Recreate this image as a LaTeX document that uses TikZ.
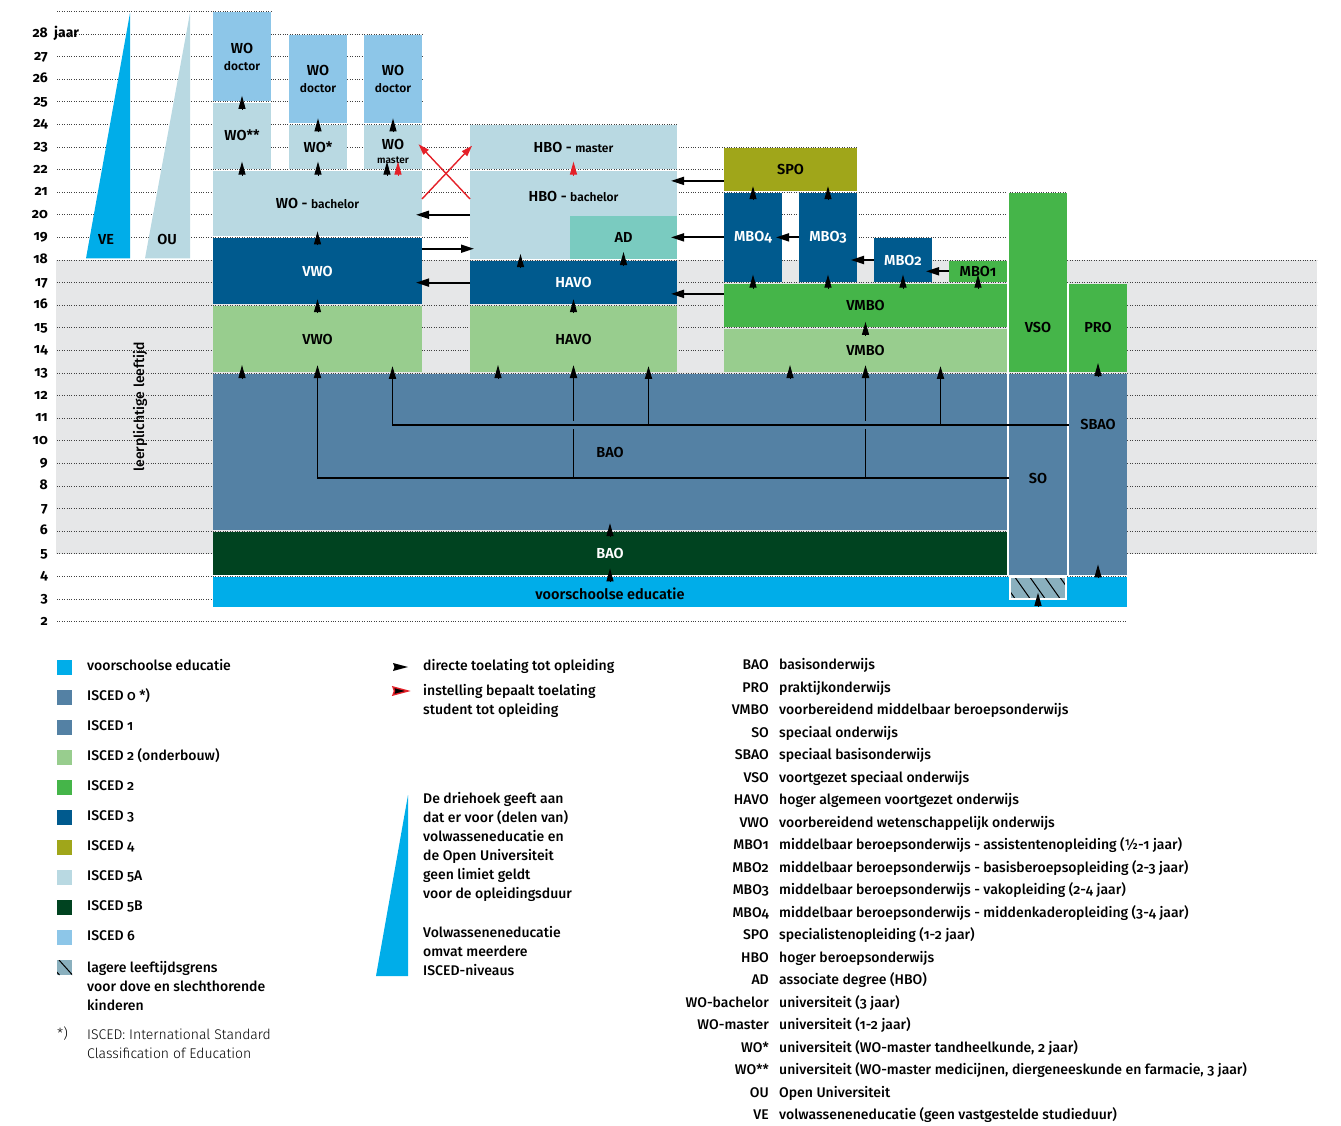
\documentclass[tikz,border=0pt]{standalone}
\usepackage{fontspec}
\setmainfont{Fira Sans}[Numbers=OldStyle]
\IfFontExistsTF{Fira Sans Medium}
	{\newfontfamily\medium{Fira Sans Medium}[Numbers=OldStyle]}
	{\newcommand\medium{\normalfont}}
\IfFontExistsTF{Fira Sans SemiBold}
	{\newfontfamily\semi{Fira Sans SemiBold}[Numbers=OldStyle]}
	{\newcommand\semi{\bfseries}}
\IfFontExistsTF{Fira Sans Light}
	{\newfontfamily\licht{Fira Sans Light}[Numbers=OldStyle]}
	{\newcommand\licht{\normalfont}}
\usetikzlibrary{arrows.meta, fit}
\definecolor{ve}{RGB}{0,173,233}
\definecolor{isc1}{RGB}{84,129,164}
\definecolor{isc2o}{RGB}{152,205,142}
\definecolor{isc2}{RGB}{69,181,73}
\definecolor{isc3}{RGB}{0,90,142}
\definecolor{isc4}{RGB}{160,166,26}
\definecolor{isc5a}{RGB}{185,217,226}
\definecolor{isc5b}{RGB}{0,67,32}
\definecolor{isc6}{RGB}{141,198,232}
\definecolor{ad}{RGB}{122,203,192}
\definecolor{band}{RGB}{230,231,232}
\definecolor{luik}{RGB}{138,176,190}
\definecolor{rood}{RGB}{228,32,40}
\newcommand\klein{\fontsize{12}{15}\selectfont}

\begin{document}
\begin{tikzpicture}[x=1pt, y=-1pt, >={Triangle[length=13pt,width=7pt]},
		blok/.style={fill=#1, inner xsep=0pt, inner ysep=-1pt, outer sep=0pt},
		zw/.style={font=\semi\fontsize{14.5}{17}\selectfont, align=center, inner sep=0pt},
		wit/.style={zw, text=white},
		raster/.style={black!75, line width=0.8pt, dash pattern=on 0.8pt off 1.6pt},
		kop/.style={->, line width=1pt},
		roodkop/.style={kop, draw=rood},
		pijl/.style={->, line width=1.8pt},
		lijn/.style={line width=1.8pt},
		links/.style={->, line width=1.8pt, >={Triangle[length=13pt,width=8pt]}, shorten >=-6pt},
		rood/.style={->, draw=rood, line width=1.4pt, >={Triangle[length=11pt,width=7pt]}},
		jr/.style={font=\bfseries\fontsize{14}{16}\selectfont, inner sep=0pt, text height=9pt, text depth=2pt},
		leg/.style={font=\medium\fontsize{14}{19}\selectfont, anchor=west, align=left, inner sep=0pt},
		legr/.style={leg, text height=10pt, text depth=3pt},
		afk/.style={legr, anchor=east, align=right},
		voet/.style={leg, font=\licht\fontsize{14}{19}\selectfont}]
	\useasboundingbox (0,0) rectangle (1341,1126);
	\begin{scope}[y=22.6pt, yshift=-666.8pt]
		\fill[band] (56,18) rectangle (1317,5);
		\foreach \a in {5,...,18}
			\draw[raster] (57,\a) -- (1317,\a);
		\foreach \a/\r in {29/271, 28/422, 27/422, 26/422, 25/422, 24/677, 23/858, 22/858, 21/1067, 20/1007, 19/1007, 4/1127, 3/1127, 2/1127}
			\draw[raster] (57,\a) -- (\r,\a);
		\foreach \a in {2,...,28}
			\node[jr, anchor=east] (j\a) at (48,\a) {\a};
		\node[jr, anchor=west] (jaar) at (54,28) {jaar};
		\node[leg, anchor=center, rotate=90] (leer) at (140,11.5) {leerplichtige leeftijd};

		\fill[ve] (86,18.07) -- (130,18.07) -- (130,28.93) -- cycle;
		\fill[isc5a] (145,18.07) -- (190,18.07) -- (190,28.93) -- cycle;
		\node[zw] (ve) at (106,18.9) {VE};
		\node[zw] (ou) at (167,18.9) {OU};

		\node[blok=isc6, fit={(213,29) (271,25)}, label={[zw]center:WO\\{\klein doctor}}] (wod1) {};
		\node[blok=isc5a, fit={(213,25) (271,22)}, label={[zw]center:WO**}] (wo2s) {};
		\node[blok=isc6, fit={(289,28) (347,24)}, label={[zw]center:WO\\{\klein doctor}}] (wod2) {};
		\node[blok=isc5a, fit={(289,24) (347,22)}, label={[zw]center:WO*}] (wo1s) {};
		\node[blok=isc6, fit={(364,28) (422,24)}, label={[zw]center:WO\\{\klein doctor}}] (wod3) {};
		\node[blok=isc5a, fit={(364,24) (422,22)}, label={[zw, yshift=-4pt]center:WO\\[-3pt]{\fontsize{10}{10}\selectfont master}}] (woma) {};
		\node[blok=isc5a, fit={(213,22) (422,19)}, label={[zw]center:WO - {\klein bachelor}}] (wobach) {};
		\node[blok=isc3, fit={(213,19) (422,16)}, label={[wit]center:VWO}] (vwo3) {};
		\node[blok=isc2o, fit={(213,16) (422,13)}, label={[zw]center:VWO}] (vwo2) {};

		\node[blok=isc5a, fit={(470,24) (677,22)}, label={[zw]center:HBO - {\klein master}}] (hboma) {};
		\node[blok=isc5a, fit={(470,22) (677,18)}] (hboba) {};
		\node[zw] (hbobaT) at (573.5,20.8) {HBO - {\klein bachelor}};
		\node[blok=ad, fit={(570,20) (677,18)}, label={[zw]center:AD}] (ad) {};
		\node[blok=isc3, fit={(470,18) (677,16)}, label={[wit]center:HAVO}] (havo3) {};
		\node[blok=isc2o, fit={(470,16) (677,13)}, label={[zw]center:HAVO}] (havo2) {};

		\node[blok=isc4, fit={(724,23) (857,21)}, label={[zw]center:SPO}] (spo) {};
		\node[blok=isc3, fit={(724,21) (782,17)}, label={[wit]center:MBO4}] (mbo4) {};
		\node[blok=isc3, fit={(799,21) (857,17)}, label={[wit]center:MBO3}] (mbo3) {};
		\node[blok=isc3, fit={(874,19) (932,17)}, label={[wit]center:MBO2}] (mbo2) {};
		\node[blok=isc2, fit={(949,18) (1007,17)}, label={[zw]center:MBO1}] (mbo1) {};
		\node[blok=isc2, fit={(724,17) (1007,15)}, label={[zw]center:VMBO}] (vmbo2) {};
		\node[blok=isc2o, fit={(724,15) (1007,13)}, label={[zw]center:VMBO}] (vmbo1) {};
		\node[blok=isc2, fit={(1009,21) (1067,13)}] (vso) {};
		\node[blok=isc2, fit={(1069,17) (1127,13)}, label={[zw]center:PRO}] (pro) {};

		\node[blok=isc1, fit={(213,13) (1007,6)}, label={[zw]center:BAO}] (bao) {};
		\node[blok=isc1, fit={(1009,13) (1067,4)}] (so) {};
		\node[blok=isc1, fit={(1069,13) (1127,4)}] (sbao) {};
		\node[blok=isc5b, fit={(213,6) (1007,4)}, label={[wit]center:BAO}] (bao0) {};
		\node[blok=ve, fit={(213,4) (1127,2.6)}] (vve) {};
		\fill[white] (1007,21) rectangle (1009,4);
		\fill[white] (1067,17) rectangle (1069,4);

		\node[fill=luik, inner sep=0pt, fit={(1010,3.96) (1066,3.02)}] (doof) {};
		\begin{scope}
			\clip (doof.south west) rectangle (doof.north east);
			\foreach \x in {1000,1015,...,1060}
				\draw[line width=1pt] (\x,3.96) -- ++(15,-0.94);
		\end{scope}
		\draw[white, line width=2pt] (doof.south west) rectangle (doof.north east);

		\node[zw] (vsoT) at (1038,15) {VSO};
		\node[zw] (soT) at (1038,8.35) {SO};
		\node[zw] (sbaoT) at (1098,10.7) {SBAO};
		\node[zw] (vveT) at (610,3.22) {voorschoolse educatie};

		\foreach \p in {wo2s.north, wo2s.south, wo1s.north, wo1s.south, woma.north, vwo3.north, vwo2.north, havo2.north, ad.south, mbo4.north, mbo3.north, mbo4.south, mbo3.south, mbo2.south, mbo1.south, vmbo1.north, bao.south, bao0.south}
			\draw[kop] ([yshift=-7pt]\p) -- ([yshift=7pt]\p);
		\draw[kop] ([xshift=-6pt,yshift=-7pt]woma.south) -- ([xshift=-6pt,yshift=7pt]woma.south);
		\draw[roodkop] ([xshift=5pt,yshift=-7pt]woma.south) -- ([xshift=5pt,yshift=7pt]woma.south);
		\draw[roodkop] ([yshift=-7pt]hboma.south) -- ([yshift=7pt]hboma.south);
		\draw[kop] ([xshift=-53pt,yshift=-7pt]havo3.north) -- ([xshift=-53pt,yshift=7pt]havo3.north);
		\foreach \p in {vwo2, havo2, vmbo1}
			\draw[kop] ([xshift=-75.5pt,yshift=-7pt]\p.south) -- ([xshift=-75.5pt,yshift=7pt]\p.south);
		\draw[kop] ([yshift=-4pt]pro.south) -- ([yshift=9pt]pro.south);
		\draw[kop] ([yshift=-3pt]sbao.south) -- ([yshift=11pt]sbao.south);
		\draw[kop] ([yshift=-8pt]doof.south) -- ([yshift=6pt]doof.south);

		\coordinate (jso) at (0,8.35);
		\coordinate (jsb) at (0,10.7);
		\coordinate (gon) at (0,10.52);
		\coordinate (gbo) at (0,10.88);
		\coordinate (sb1) at (392.5,13.31);
		\coordinate (sb2) at (648.5,13.31);
		\coordinate (sb3) at (940.5,13.31);
		\draw[pijl] (so.west |- jso) -| ([yshift=7pt]vwo2.south);
		\draw[lijn] (havo2.south |- jso) -- (havo2.south |- gon);
		\draw[pijl] (havo2.south |- gbo) -- ([yshift=7pt]havo2.south);
		\draw[lijn] (vmbo1.south |- jso) -- (vmbo1.south |- gon);
		\draw[pijl] (vmbo1.south |- gbo) -- ([yshift=7pt]vmbo1.south);
		\draw[pijl] (sbao.west |- jsb) -| (sb1);
		\draw[pijl] (sb2 |- jsb) -- (sb2);
		\draw[pijl] (sb3 |- jsb) -- (sb3);

		\coordinate (r215) at (0,21.5);
		\coordinate (r185) at (0,18.5);
		\coordinate (r165) at (0,16.5);
		\draw[links] (hboba.west) -- (hboba.west -| wobach.east);
		\draw[links, shorten >=-4pt] (vwo3.east |- r185) -- (hboba.west |- r185);
		\draw[links] (havo3.west) -- (havo3.west -| vwo3.east);
		\draw[links] (spo.west |- r215) -- (hboba.east |- r215);
		\draw[links] (mbo4.west) -- (ad.east);
		\draw[links] (vmbo2.west |- r165) -- (havo3.east |- r165);
		\draw[links] (mbo3.west) -- (mbo4.east);
		\draw[links] (mbo2.west) -- (mbo2.west -| mbo3.east);
		\draw[links] (mbo1.west) -- (mbo1.west -| mbo2.east);

		\coordinate (rx) at (0,20.7);
		\coordinate (r23) at (0,22.96);
		\draw[rood, shorten >=-3pt] (wobach.east |- rx) -- (hboma.west |- r23);
		\draw[rood, shorten >=-5pt] (hboba.west |- rx) -- (woma.east |- r23);
	\end{scope}

	\foreach \kl/\tk [count=\i from 0] in {ve/voorschoolse educatie, isc1/ISCED 0 *), isc1/ISCED 1, isc2o/ISCED 2 (onderbouw), isc2/ISCED 2, isc3/ISCED 3, isc4/ISCED 4, isc5a/ISCED 5A, isc5b/ISCED 5B, isc6/ISCED 6}
	{
		\fill[\kl] (57,{660+30*\i}) rectangle (72,{675+30*\i});
		\node[legr] (leg\i) at (87,{667+30*\i}) {\tk};
	}
	\begin{scope}
		\clip (57,960) rectangle (72,975);
		\fill[luik] (57,960) rectangle (72,975);
		\foreach \x in {46,59}
			\draw[line width=1pt] (\x,960) -- ++(13.5,15);
	\end{scope}
	\node[leg] (leg10) at (87,986) {lagere leeftijdsgrens\\voor dove en slechthorende\\kinderen};
	\node[voet] (ster) at (57,1034) {*)};
	\node[voet] (voetT) at (87,1043.5) {ISCED: International Standard\\Classification of Education};

	\fill (393,663) -- (408,667) -- (393,671) -- (394.5,667) -- cycle;
	\fill[rood] (393,687) -- (408,691) -- (393,695) -- (394.5,691) -- cycle;
	\node[legr] (pijl1) at (423,667) {directe toelating tot opleiding};
	\node[leg] (pijl2) at (423,700.5) {instelling bepaalt toelating\\student tot opleiding};
	\fill[ve] (376,976) -- (408,976) -- (408,795) -- cycle;
	\node[leg] (drie1) at (423,846.5) {De driehoek geeft aan\\dat er voor (delen van)\\volwasseneducatie en\\de Open Universiteit\\geen limiet geldt\\voor de opleidingsduur};
	\node[leg] (drie2) at (423,951) {Volwasseneneducatie\\omvat meerdere\\ISCED-niveaus};

	\foreach \ab/\om [count=\i from 0] in {BAO/basisonderwijs, PRO/praktijkonderwijs, VMBO/voorbereidend middelbaar beroepsonderwijs, SO/speciaal onderwijs, SBAO/speciaal basisonderwijs, VSO/voortgezet speciaal onderwijs, HAVO/hoger algemeen voortgezet onderwijs, VWO/voorbereidend wetenschappelijk onderwijs, MBO1/middelbaar beroepsonderwijs - assistentenopleiding (½-1 jaar), MBO2/middelbaar beroepsonderwijs - basisberoepsopleiding (2-3 jaar), MBO3/middelbaar beroepsonderwijs - vakopleiding (2-4 jaar), MBO4/middelbaar beroepsonderwijs - middenkaderopleiding (3-4 jaar), SPO/specialistenopleiding (1-2 jaar), HBO/hoger beroepsonderwijs, AD/associate degree (HBO), WO-bachelor/universiteit (3 jaar), WO-master/universiteit (1-2 jaar), WO*/{universiteit (WO-master tandheelkunde, 2 jaar)}, WO**/{universiteit (WO-master medicijnen, diergeneeskunde en farmacie, 3 jaar)}, OU/Open Universiteit, VE/volwasseneneducatie (geen vastgestelde studieduur)}
	{
		\node[afk] (a\i) at (769,{666+22.5*\i}) {\ab};
		\node[legr] (o\i) at (779,{666+22.5*\i}) {\om};
	}
\end{tikzpicture}
\end{document}
